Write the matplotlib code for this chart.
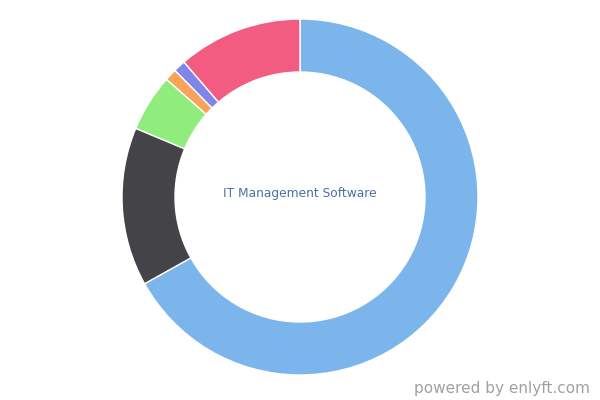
import matplotlib
matplotlib.use("Agg")
import matplotlib.pyplot as plt

# slice shares (percent), clockwise from 12 o'clock
labels = ["Slice 1", "Slice 2", "Slice 3", "Slice 4", "Slice 5", "Slice 6"]
shares = [66.9, 14.4, 5.2, 1.1, 1.1, 11.3]
colors = ["#7cb5ec", "#434348", "#90ed7d", "#f7a35c", "#8085e9", "#f15c80"]

center_label = "IT Management Software"
footer = "powered by enlyft.com"

fig = plt.figure(figsize=(6, 4), dpi=100)
ax = fig.add_axes([0, 0, 1, 1])
ax.set_xlim(0, 600)
ax.set_ylim(0, 400)
ax.set_aspect("equal")
ax.axis("off")

outer_r = 178
inner_r = 125
ax.pie(shares, colors=colors, center=(300, 203), radius=outer_r,
       startangle=90, counterclock=False,
       wedgeprops=dict(width=outer_r - inner_r, edgecolor="white", linewidth=1))
ax.set_xlim(0, 600)
ax.set_ylim(0, 400)

ax.text(300, 207, center_label, ha="center", va="center",
        fontsize=8.8, color="#4a6fa5")
ax.text(590, 11, footer, ha="right", va="center",
        fontsize=11, color="#a0a0a0")

fig.savefig("out.png", dpi=100)
